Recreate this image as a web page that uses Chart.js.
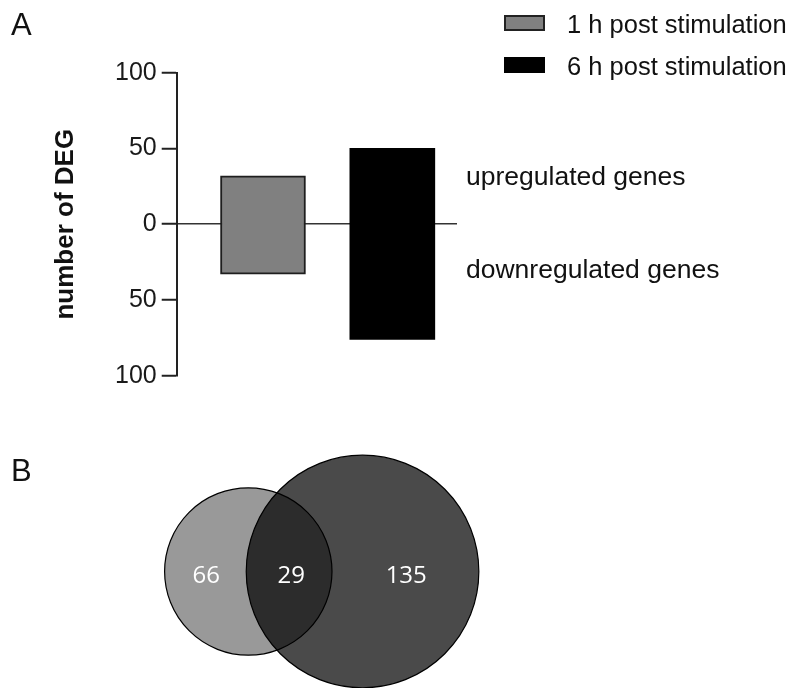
<!DOCTYPE html>
<html>
<head>
<meta charset="utf-8">
<script src="https://cdn.jsdelivr.net/npm/chart.js@4/dist/chart.umd.min.js"></script>
<style>
  body { margin: 0; background: #fff; }
  #page { position: relative; width: 791px; height: 688px; overflow: hidden; font-family: 'Liberation Sans', Arial, sans-serif; color: #111; }
  #page canvas { position: absolute; left: 0; }
  .txt { position: absolute; white-space: nowrap; line-height: 1; }
  .panel { font-size: 31px; }
  .side { font-size: 26.5px; }
  .legend-row { position: absolute; left: 504px; height: 16px; }
  .legend-box { position: absolute; left: 0; top: 0; width: 41px; height: 16px; box-sizing: border-box; }
  .legend-text { position: absolute; left: 63px; font-size: 25.5px; line-height: 1; white-space: nowrap; }
</style>
</head>
<body>
<div id="page">
  <canvas id="barChart" width="791" height="400" style="top:0"></canvas>
  <canvas id="vennChart" width="791" height="288" style="top:400px"></canvas>
  <div class="txt panel" style="left:11px; top:9px">A</div>
  <div class="txt panel" style="left:11px; top:455px">B</div>
  <div class="txt side" style="left:466px; top:163px">upregulated genes</div>
  <div class="txt side" style="left:466px; top:256px">downregulated genes</div>
  <div id="legend"></div>
</div>
<script>
// timepoints and DEG counts (up / down) per timepoint
const timepoints = ['1 h post stimulation', '6 h post stimulation'];
const timepointPos = [1, 2];
const upregulated = [32, 50];
const downregulated = [33, 76];
const barColors = ['#808080', '#000000'];
const barBorders = ['#1e1e1e', '#000000'];

// Venn: overlap of DEG sets between the two timepoints
const vennCentreX = [0, 1.36];
const vennRadius = [83.7, 116.3];
const vennCounts = [66, 29, 135];
const vennCountX = [-0.5, 0.51, 1.88];

const FONT = "'Liberation Sans', Arial, sans-serif";

// html legend, one row per timepoint
const legendTops = [15, 57];
const legendEl = document.getElementById('legend');
timepoints.forEach((label, i) => {
  const row = document.createElement('div');
  row.className = 'legend-row';
  row.style.top = legendTops[i] + 'px';
  const box = document.createElement('div');
  box.className = 'legend-box';
  box.style.background = barColors[i];
  box.style.border = i === 0 ? '2px solid #222' : 'none';
  const text = document.createElement('div');
  text.className = 'legend-text';
  text.style.top = '-3px';
  text.textContent = label;
  row.appendChild(box);
  row.appendChild(text);
  legendEl.appendChild(row);
});

new Chart(document.getElementById('barChart'), {
  type: 'bar',
  data: {
    datasets: [{
      label: 'DEG',
      data: timepointPos.map((x, i) => ({ x: x, y: [-downregulated[i], upregulated[i]] })),
      backgroundColor: barColors,
      borderColor: barBorders,
      borderWidth: [2, 0],
      borderSkipped: false,
      barThickness: 85
    }]
  },
  options: {
    responsive: false,
    animation: false,
    events: [],
    layout: { autoPadding: false, padding: { left: 38.8, right: 334, top: 72.7, bottom: 24.3 } },
    plugins: { legend: { display: false }, tooltip: { enabled: false } },
    scales: {
      x: { type: 'linear', min: 0.333, max: 2.5, offset: false, display: false },
      y: {
        min: -100,
        max: 100,
        border: { display: true, color: '#222', width: 2 },
        grid: {
          color: ctx => ctx.tick && ctx.tick.value === 0 ? '#333' : 'rgba(0,0,0,0)',
          lineWidth: 1.5,
          tickColor: '#222',
          tickWidth: 2,
          tickLength: 15
        },
        ticks: {
          stepSize: 50,
          padding: 5,
          color: '#1a1a1a',
          font: { family: FONT, size: 25 },
          callback: v => Math.abs(v)
        },
        title: {
          display: true,
          text: 'number of DEG',
          color: '#111',
          font: { family: FONT, size: 26, weight: 'bold' },
          padding: { top: 11.3, bottom: 28.7 }
        }
      }
    }
  }
});

// writes the region counts inside the venn circles
const vennCountLabels = {
  id: 'vennCountLabels',
  afterDatasetsDraw(chart) {
    const { ctx, scales } = chart;
    ctx.save();
    ctx.fillStyle = '#ffffff';
    ctx.font = "24px 'Open Sans', sans-serif";
    ctx.textAlign = 'center';
    ctx.textBaseline = 'middle';
    vennCounts.forEach((n, i) => {
      ctx.fillText(String(n), scales.x.getPixelForValue(vennCountX[i]), scales.y.getPixelForValue(-0.05));
    });
    ctx.restore();
  }
};

const vennPoints = vennCentreX.map(x => ({ x: x, y: 0 }));

new Chart(document.getElementById('vennChart'), {
  type: 'scatter',
  data: {
    datasets: [
      {
        // outlines on top so both arcs stay visible in the overlap
        label: 'outline',
        data: vennPoints,
        order: 0,
        clip: false,
        pointRadius: vennRadius,
        pointBackgroundColor: 'rgba(0,0,0,0)',
        pointBorderColor: '#000',
        pointBorderWidth: 1.2
      },
      {
        label: 'sets',
        data: vennPoints,
        order: 1,
        clip: false,
        pointRadius: vennRadius,
        pointBackgroundColor: ['#999999', 'rgba(0,0,0,0.71)'],
        pointBorderWidth: 0
      }
    ]
  },
  options: {
    responsive: false,
    animation: false,
    events: [],
    layout: { autoPadding: false, padding: { left: 80.3, right: 206.7, top: 71.5, bottom: 16.5 } },
    plugins: { legend: { display: false }, tooltip: { enabled: false } },
    scales: {
      x: { type: 'linear', min: -2, max: 4, display: false },
      y: { type: 'linear', min: -1, max: 1, display: false }
    }
  },
  plugins: [vennCountLabels]
});
</script>
</body>
</html>
